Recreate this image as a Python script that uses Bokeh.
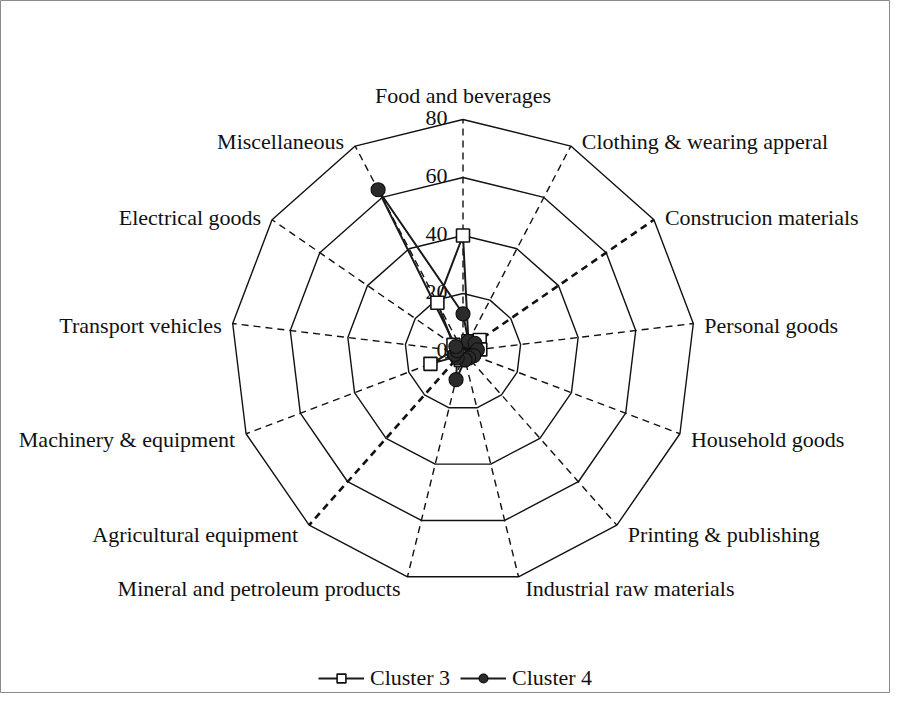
import numpy as np
from bokeh.plotting import figure
from bokeh.models import Range1d, Legend, LegendItem
from bokeh.core.properties import value
from bokeh.embed import file_html
from bokeh.resources import INLINE

# ---- data ----
categories = ["Food and beverages", "Clothing & wearing apperal", "Construcion materials",
              "Personal goods", "Household goods", "Printing & publishing",
              "Industrial raw materials", "Mineral and petroleum products",
              "Agricultural equipment", "Machinery & equipment", "Transport vehicles",
              "Electrical goods", "Miscellaneous"]
cluster3 = [40, 4, 7, 6, 3, 2, 2, 3, 2, 12, 3, 4, 19]
cluster4 = [13, 4, 5, 5, 4, 3, 3, 10, 3, 3, 2, 3, 63]
ring_values = [20, 40, 60, 80]
tick_values = [0, 20, 40, 60, 80]
tick_labels = ["0", "20", "40", "60", "80"]
series_names = ["Cluster 3", "Cluster 4"]

# ---- layout ----
W, H = 890, 693
PX = 2.9             # pixels per value unit
CX, CY = 462.5, 351  # centre in canvas pixels (from top-left)
RMAX = max(ring_values)
FONT = value("Liberation Serif")
FS = "22px"

n = len(categories)
theta = np.arange(n) * 2 * np.pi / n
sx, cy_ = np.sin(theta), np.cos(theta)

def xy(vals):
    v = np.asarray(vals, dtype=float)
    return list(v * sx), list(v * cy_)

p = figure(width=W, height=H, output_backend="svg", toolbar_location=None,
           x_range=Range1d(-CX / PX, (W - CX) / PX),
           y_range=Range1d(-(H - CY) / PX, CY / PX),
           x_axis_location=None, y_axis_location=None, min_border=0)
p.grid.visible = False
p.outline_line_color = "#8a8a8a"
p.outline_line_width = 1
p.background_fill_color = "white"
p.border_fill_color = "white"

# ring polygons
for r in ring_values:
    gx, gy = xy([r] * n)
    p.line(gx + [gx[0]], gy + [gy[0]], line_color="#111111", line_width=1.4)

# spokes
for i in range(n):
    bold = i in (2, 8)
    p.line([0, RMAX * sx[i]], [0, RMAX * cy_[i]], line_color="#111111",
           line_width=2.6 if bold else 1.4, line_dash="7 5")

# tick labels
for t, lab in zip(tick_values, tick_labels):
    p.text(x=[-15.5 / PX], y=[t + 1.5 / PX], text=[lab], text_font=FONT,
           text_font_size=FS, text_align="right", text_baseline="middle",
           text_color="#111111")

# category labels
for i, lab in enumerate(categories):
    vx, vy = RMAX * sx[i], RMAX * cy_[i]
    if abs(sx[i]) < 0.1:
        p.text(x=[vx], y=[vy + 12 / PX], text=[lab], text_font=FONT, text_font_size=FS,
               text_align="center", text_baseline="bottom", text_color="#111111")
    else:
        dx = (11 if abs(sx[i]) > 0.4 else 7) * np.sign(sx[i])
        down = 3 + 9 * (-cy_[i])
        p.text(x=[vx + dx / PX], y=[vy - down / PX], text=[lab], text_font=FONT,
               text_font_size=FS, text_align="left" if sx[i] > 0 else "right",
               text_baseline="middle", text_color="#111111")

# series
x3, y3 = xy(cluster3)
x4, y4 = xy(cluster4)
l3 = p.line(x3 + [x3[0]], y3 + [y3[0]], line_color="#1a1a1a", line_width=2)
l4 = p.line(x4 + [x4[0]], y4 + [y4[0]], line_color="#1a1a1a", line_width=2)
m3 = p.scatter(x3, y3, marker="square", size=13, fill_color="white",
               line_color="#111111", line_width=1.6)
m4 = p.scatter(x4, y4, marker="circle", size=14, fill_color="#2b2b2b",
               line_color="#111111", line_width=1.2)

legend = Legend(items=[LegendItem(label=series_names[0], renderers=[l3, m3]),
                       LegendItem(label=series_names[1], renderers=[l4, m4])],
                orientation="horizontal", location=(318, 2),
                glyph_width=46, glyph_height=22, label_standoff=6, spacing=10,
                padding=0, margin=0, border_line_color=None,
                background_fill_alpha=0,
                label_text_font="Liberation Serif", label_text_font_size=FS,
                label_text_color="#111111")
p.add_layout(legend)

open("out.html", "w").write(file_html(p, INLINE))
